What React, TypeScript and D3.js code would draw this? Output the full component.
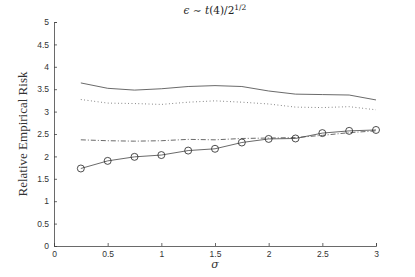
import { useRef, useEffect } from "react";
import * as d3 from "d3";

const sigmas = [0.25, 0.5, 0.75, 1, 1.25, 1.5, 1.75, 2, 2.25, 2.5, 2.75, 3];
const solidRisk = [3.64, 3.52, 3.48, 3.51, 3.56, 3.58, 3.56, 3.46, 3.39, 3.38, 3.37, 3.26];
const dottedRisk = [3.27, 3.19, 3.18, 3.16, 3.21, 3.24, 3.21, 3.17, 3.1, 3.09, 3.11, 3.04];
const dashDotRisk = [2.37, 2.35, 2.34, 2.35, 2.38, 2.37, 2.4, 2.41, 2.42, 2.47, 2.53, 2.57];
const circleRisk = [1.73, 1.9, 1.99, 2.03, 2.13, 2.17, 2.31, 2.39, 2.4, 2.52, 2.57, 2.59];
const xTicks = [0, 0.5, 1, 1.5, 2, 2.5, 3];
const yTicks = [0, 0.5, 1, 1.5, 2, 2.5, 3, 3.5, 4, 4.5, 5];

const W = 415;
const H = 277;

const App = () => {
  const svgRef = useRef();

  useEffect(() => {
    const svg = d3.select(svgRef.current);
    svg.selectAll("*").remove();

    const margin = { top: 22, right: 39, bottom: 31, left: 54 };
    const x = d3.scaleLinear().domain([0, 3]).range([margin.left, W - margin.right]);
    const y = d3.scaleLinear().domain([0, 5]).range([H - margin.bottom, margin.top]);

    const axisColor = "#444";
    const lineColor = "#444";

    // axes, ticks pointing inward like matlab
    const xAxis = svg
      .append("g")
      .attr("transform", `translate(0,${y(0)})`)
      .call(d3.axisBottom(x).tickValues(xTicks).tickSize(-3).tickPadding(5).tickFormat(d3.format("")));
    const yAxis = svg
      .append("g")
      .attr("transform", `translate(${x(0)},0)`)
      .call(d3.axisLeft(y).tickValues(yTicks).tickSize(-3).tickPadding(5).tickFormat(d3.format("")));

    [xAxis, yAxis].forEach((ax) => {
      ax.select(".domain").attr("stroke", axisColor).attr("stroke-width", 0.8);
      ax.selectAll(".tick line").attr("stroke", axisColor).attr("stroke-width", 0.8);
      ax.selectAll(".tick text")
        .attr("fill", "#333")
        .attr("font-family", "Liberation Sans, Arial, sans-serif")
        .attr("font-size", 8.5);
    });

    const line = d3
      .line()
      .x((d, i) => x(sigmas[i]))
      .y((d) => y(d));

    const series = [
      { values: solidRisk, dash: null },
      { values: dottedRisk, dash: "0.8,2.6" },
      { values: dashDotRisk, dash: "5,2,1,2" },
      { values: circleRisk, dash: null },
    ];

    series.forEach((s) => {
      svg
        .append("path")
        .datum(s.values)
        .attr("d", line)
        .attr("fill", "none")
        .attr("stroke", lineColor)
        .attr("stroke-width", 0.8)
        .attr("stroke-dasharray", s.dash);
    });

    svg
      .append("g")
      .selectAll("circle")
      .data(circleRisk)
      .enter()
      .append("circle")
      .attr("cx", (d, i) => x(sigmas[i]))
      .attr("cy", (d) => y(d))
      .attr("r", 3.5)
      .attr("fill", "none")
      .attr("stroke", "#222")
      .attr("stroke-width", 0.8);

    // title
    const title = svg
      .append("text")
      .attr("x", (x(0) + x(3)) / 2)
      .attr("y", 14)
      .attr("text-anchor", "middle")
      .attr("font-family", "DejaVu Serif, serif")
      .attr("font-size", 10.5)
      .attr("fill", "#222");
    title.append("tspan").attr("font-style", "italic").text("ϵ");
    title.append("tspan").text(" ∼ ");
    title.append("tspan").attr("font-style", "italic").text("t");
    title.append("tspan").text("(4)/2");
    title.append("tspan").attr("dy", -4).attr("font-size", 7.5).text("1/2");

    // y label
    svg
      .append("text")
      .attr("transform", `translate(27,${(y(0) + y(5)) / 2}) rotate(-90)`)
      .attr("text-anchor", "middle")
      .attr("font-family", "Liberation Serif, serif")
      .attr("font-size", 13)
      .attr("fill", "#333")
      .text("Relative Empirical Risk");

    // x label
    svg
      .append("text")
      .attr("x", (x(0) + x(3)) / 2)
      .attr("y", 268)
      .attr("text-anchor", "middle")
      .attr("font-family", "DejaVu Serif, serif")
      .attr("font-style", "italic")
      .attr("font-size", 11)
      .attr("fill", "#333")
      .text("σ");
  }, []);

  return (
    <svg
      ref={svgRef}
      width={W}
      height={H}
      style={{ position: "absolute", left: 0, top: 0, background: "white" }}
    ></svg>
  );
};

export default App;
